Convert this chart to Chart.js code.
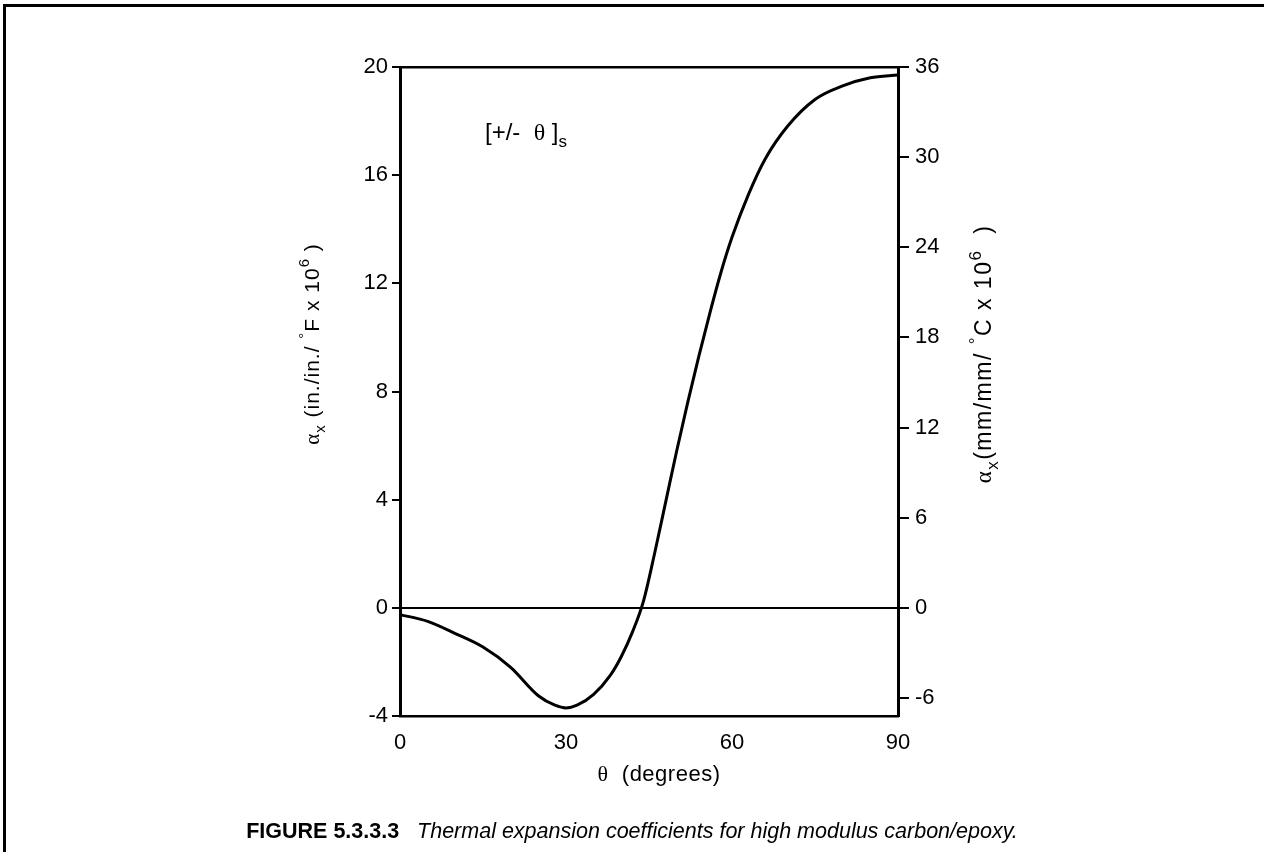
<!DOCTYPE html>
<html>
<head>
<meta charset="utf-8">
<script src="https://cdn.jsdelivr.net/npm/chart.js@4.4.1/dist/chart.umd.min.js"></script>
<style>
    html, body { margin: 0; padding: 0; background: #fff; }
    canvas { display: block; }
</style>
</head>
<body>
<canvas id="cte-chart" width="1264" height="852"></canvas>
<script>
// ply angle (degrees) and alpha_x (in./in./F x 10^6)
const thetaDeg = [0, 5, 10, 15, 20, 25, 28, 30, 32, 35, 38, 40, 42, 44, 46, 48, 50, 52, 54, 56, 58, 60, 63, 66, 70, 75, 80, 85, 90]
const alphaF = [-0.25, -0.5, -0.95, -1.45, -2.2, -3.25, -3.6, -3.7, -3.6, -3.2, -2.5, -1.8, -0.9, 0.25, 2.0, 3.9, 5.8, 7.6, 9.3, 10.9, 12.4, 13.7, 15.3, 16.6, 17.8, 18.8, 19.3, 19.6, 19.7]

const xTicks = [0, 30, 60, 90]
const leftTicks = [-4, 0, 4, 8, 12, 16, 20]
const rightTicks = [-6, 0, 6, 12, 18, 24, 30, 36]

const SANS = '"Liberation Sans", Arial, sans-serif'
const SERIF = '"Liberation Serif", "Times New Roman", serif'

function drawRich(ctx, parts, cx, cy, angle, size, spacing) {
    ctx.save()
    ctx.translate(cx, cy)
    ctx.rotate(angle)
    ctx.textAlign = "left"
    ctx.textBaseline = "alphabetic"
    ctx.fillStyle = "#000"
    ctx.letterSpacing = (spacing || 0) + "px"
    const fontOf = p => {
        const s = (p.sub || p.sup) ? Math.round(size * 0.72) : size
        return (p.italic ? "italic " : "") + (p.bold ? "bold " : "") + s + "px " + (p.serif ? SERIF : SANS)
    }
    let total = 0
    parts.forEach(p => { ctx.font = fontOf(p); total += ctx.measureText(p.t).width })
    let x = -total / 2
    parts.forEach(p => {
        ctx.font = fontOf(p)
        const dy = p.sub ? size * 0.3 : (p.sup ? -size * 0.45 : 0)
        ctx.fillText(p.t, x, size * 0.36 + dy)
        x += ctx.measureText(p.t).width
    })
    ctx.restore()
}

const textPlugin = {
    id: "figureText",
    beforeDraw(chart) {
        const ctx = chart.ctx
        ctx.save()
        ctx.fillStyle = "#fff"
        ctx.fillRect(0, 0, chart.width, chart.height)
        // page frame (top and left edges)
        ctx.fillStyle = "#000"
        ctx.fillRect(3, 4, chart.width - 3, 3)
        ctx.fillRect(3, 4, 3, chart.height - 4)
        ctx.restore()
    },
    afterDraw(chart) {
        const ctx = chart.ctx
        drawRich(ctx, [
            { t: "\u03B1", serif: true }, { t: "x", sub: true },
            { t: " (in./in./ " }, { t: "\u00B0", sup: true }, { t: "F x 10" }, { t: "6", sup: true }, { t: " )" }
        ], 311, 344, -Math.PI / 2, 21, 1)
        drawRich(ctx, [
            { t: "\u03B1", serif: true }, { t: "x", sub: true },
            { t: "(mm/mm/ " }, { t: "\u00B0", sup: true }, { t: "C x 10" }, { t: "6", sup: true }, { t: "  )" }
        ], 983, 354, -Math.PI / 2, 23, 1.5)
        drawRich(ctx, [
            { t: "\u03B8", serif: true }, { t: "  (degrees)" }
        ], 659, 773, 0, 22, 0.5)
        drawRich(ctx, [
            { t: "[+/-  " }, { t: "\u03B8", serif: true }, { t: " ]" }, { t: "s", sub: true }
        ], 526, 131, 0, 24, 0)
        drawRich(ctx, [
            { t: "FIGURE 5.3.3.3", bold: true }, { t: "   Thermal expansion coefficients for high modulus carbon/epoxy.", italic: true }
        ], 632, 830, 0, 21.5, 0)
    }
}

const ctx = document.getElementById("cte-chart").getContext("2d")
const cteChart = new Chart(ctx, {
    type: "line",
    data: {
        datasets: [{
            label: "alpha_x",
            data: thetaDeg.map((t, i) => ({ x: t, y: alphaF[i] })),
            borderColor: "#000",
            borderWidth: 3,
            pointRadius: 0,
            fill: false,
            cubicInterpolationMode: "monotone",
            yAxisID: "y"
        }]
    },
    options: {
        responsive: false,
        animation: false,
        layout: { padding: { top: 67, left: 0, right: 0, bottom: 0 } },
        plugins: {
            legend: { display: false },
            tooltip: { enabled: false }
        },
        scales: {
            x: {
                type: "linear",
                position: "bottom",
                min: 0,
                max: 90,
                afterBuildTicks: scale => { scale.ticks = xTicks.map(v => ({ value: v })) },
                afterFit: scale => { scale.height = 136 },
                grid: { display: false },
                border: { display: true, color: "#000", width: 2.5 },
                ticks: { color: "#000", padding: 6, maxRotation: 0, font: { family: SANS, size: 22 } }
            },
            xTop: {
                type: "linear",
                position: "top",
                min: 0,
                max: 90,
                afterFit: scale => { scale.height = 0 },
                grid: { display: false },
                border: { display: true, color: "#000", width: 2.5 },
                ticks: { display: false }
            },
            y: {
                position: "left",
                min: -4,
                max: 20,
                afterBuildTicks: scale => { scale.ticks = leftTicks.map(v => ({ value: v })) },
                afterFit: scale => { scale.width = 400 },
                grid: {
                    color: c => (c.tick && c.tick.value === 0) ? "#000" : "rgba(0,0,0,0)",
                    tickColor: "#000",
                    lineWidth: 2,
                    tickLength: 8
                },
                border: { display: true, color: "#000", width: 3 },
                ticks: { color: "#000", padding: 4, font: { family: SANS, size: 22 } }
            },
            yRight: {
                position: "right",
                min: -7.2,
                max: 36,
                afterBuildTicks: scale => { scale.ticks = rightTicks.map(v => ({ value: v })) },
                afterFit: scale => { scale.width = 366 },
                grid: { drawOnChartArea: false, tickColor: "#000", lineWidth: 2, tickLength: 11 },
                border: { display: true, color: "#000", width: 3 },
                ticks: { color: "#000", padding: 6, font: { family: SANS, size: 22 } }
            }
        }
    },
    plugins: [textPlugin]
})
</script>
</body>
</html>
